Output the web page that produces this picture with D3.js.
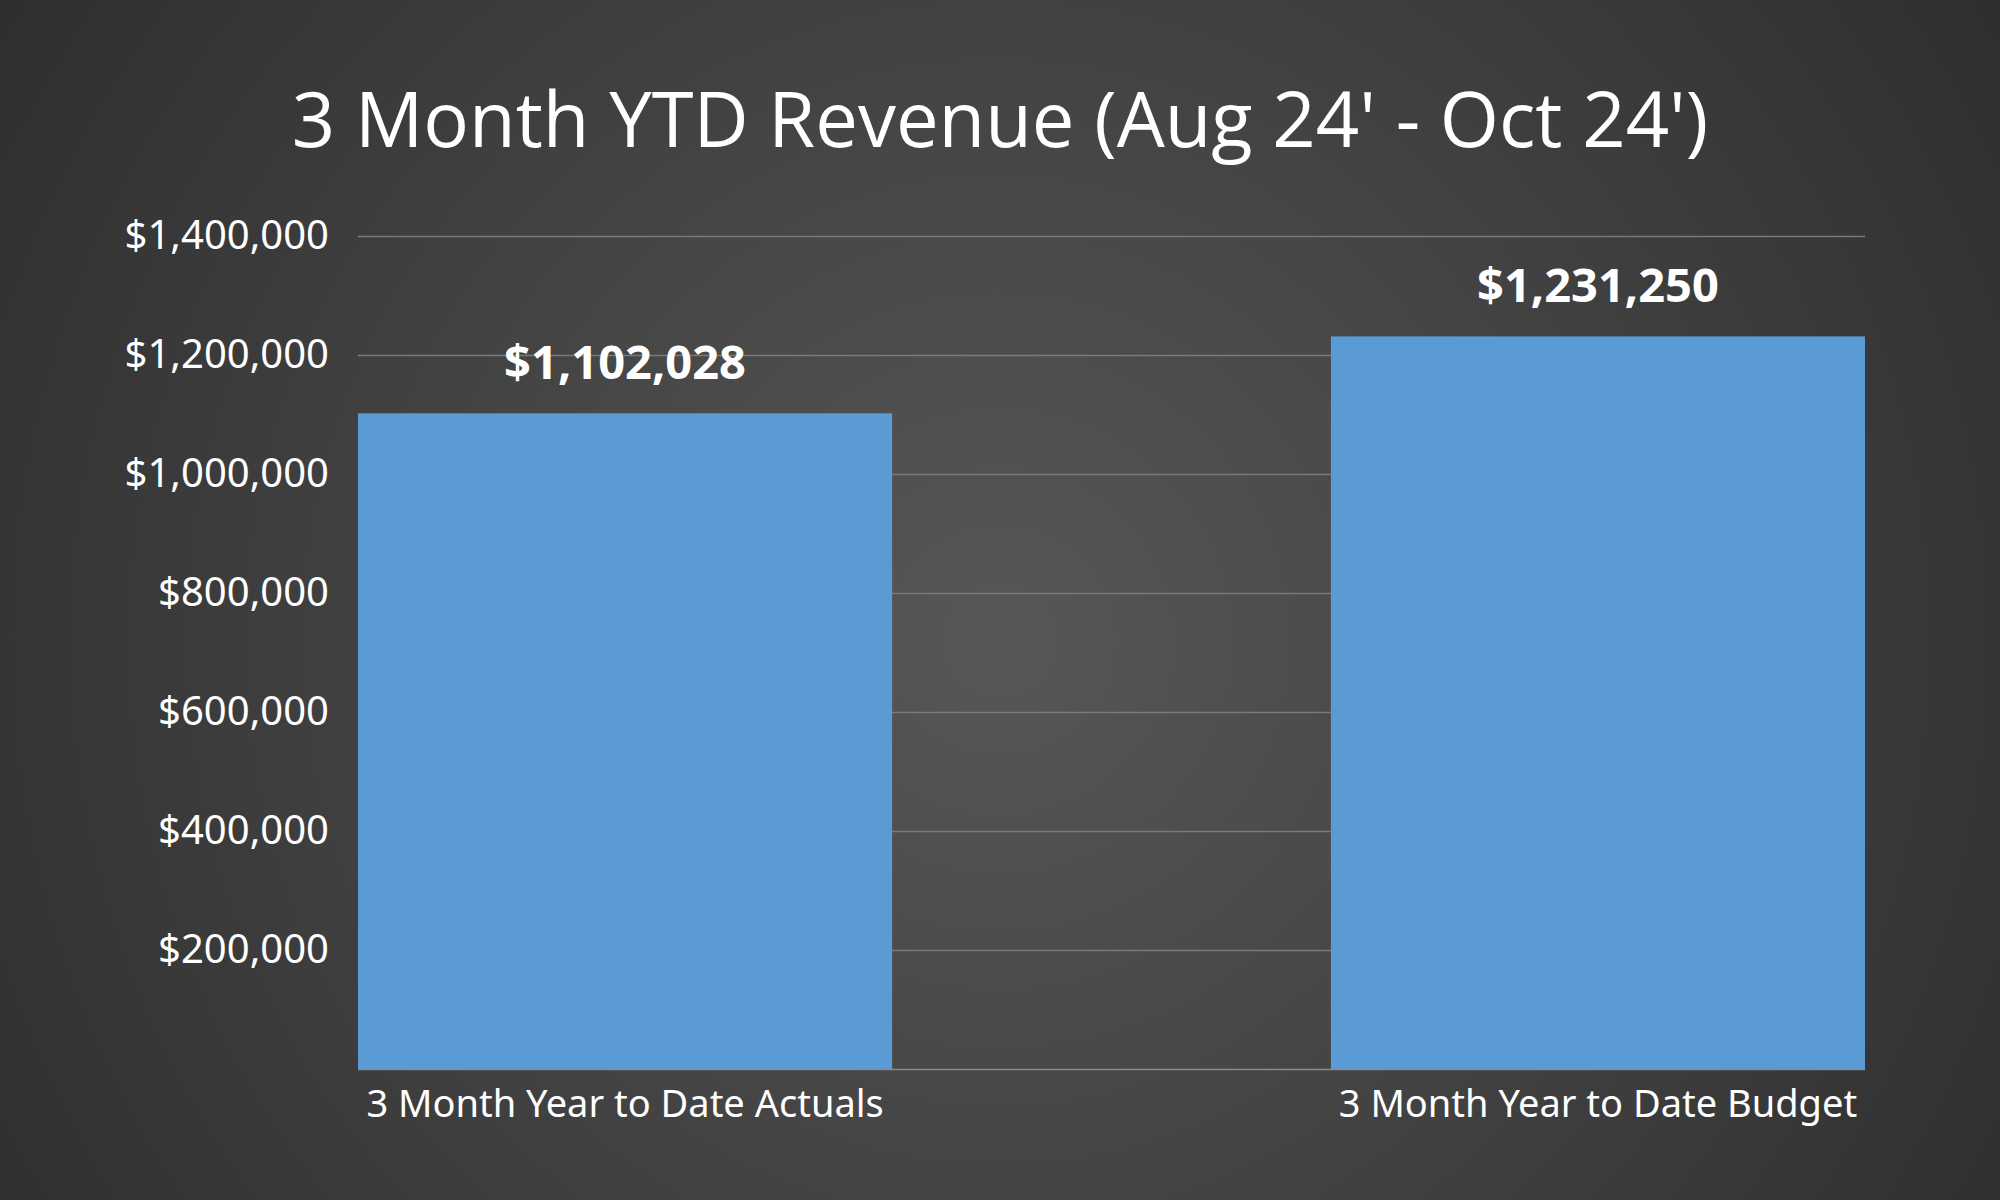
<!DOCTYPE html>
<html>
<head>
<meta charset="utf-8">
<script src="https://cdn.jsdelivr.net/npm/d3@7"></script>
<style>
  html, body { margin: 0; padding: 0; background: #333; }
  svg { display: block; }
</style>
</head>
<body>
<svg id="chart" width="2000" height="1200"></svg>
<script>
// ---- data ----
const categories = ["3 Month Year to Date Actuals", "3 Month Year to Date Budget"];
const values = [1102028, 1231250];
const valueLabels = ["$1,102,028", "$1,231,250"];
const tickValues = [200000, 400000, 600000, 800000, 1000000, 1200000, 1400000];
const tickLabels = ["$200,000", "$400,000", "$600,000", "$800,000", "$1,000,000", "$1,200,000", "$1,400,000"];
const title = "3 Month YTD Revenue (Aug 24' - Oct 24')";

// ---- layout ----
const W = 2000, H = 1200;
const plot = { left: 358, right: 1865, top: 236, bottom: 1069 };

const svg = d3.select("#chart");

// background radial gradient
const defs = svg.append("defs");
const grad = defs.append("radialGradient")
  .attr("id", "bg").attr("gradientUnits", "userSpaceOnUse")
  .attr("cx", 1000).attr("cy", 640).attr("r", 1250);
grad.append("stop").attr("offset", "0%").attr("stop-color", "#575757");
grad.append("stop").attr("offset", "100%").attr("stop-color", "#2c2c2c");
svg.append("rect").attr("width", W).attr("height", H).attr("fill", "url(#bg)");

const x = d3.scaleBand().domain(categories)
  .range([plot.left, plot.right]).paddingInner(0.451).paddingOuter(0);
const y = d3.scaleLinear().domain([0, 1400000]).range([plot.bottom, plot.top]);

// gridlines
svg.append("g")
  .selectAll("line").data(tickValues).join("line")
  .attr("x1", plot.left).attr("x2", plot.right)
  .attr("y1", d => Math.round(y(d)) + 0.5).attr("y2", d => Math.round(y(d)) + 0.5)
  .attr("stroke", "#7a7a7a").attr("stroke-width", 1.3);

// y axis labels
const yAxis = d3.axisLeft(y).tickValues(tickValues)
  .tickFormat((d, i) => tickLabels[i]).tickSize(0).tickPadding(29);
const gy = svg.append("g").attr("transform", `translate(${plot.left},0)`).call(yAxis);
gy.select(".domain").remove();
gy.selectAll("text")
  .attr("fill", "#ffffff")
  .style("font-family", "'Noto Sans', sans-serif")
  .style("font-size", "40px");

// bars
svg.append("g").selectAll("rect").data(values).join("rect")
  .attr("x", (d, i) => x(categories[i]))
  .attr("width", x.bandwidth())
  .attr("y", d => y(d))
  .attr("height", d => y(0) - y(d))
  .attr("fill", "#5b9bd5");

// baseline
svg.append("line")
  .attr("x1", plot.left).attr("x2", plot.right)
  .attr("y1", plot.bottom + 0.5).attr("y2", plot.bottom + 0.5)
  .attr("stroke", "#8a8a8a").attr("stroke-width", 1.5);

// value labels
svg.append("g").selectAll("text").data(values).join("text")
  .attr("x", (d, i) => x(categories[i]) + x.bandwidth() / 2)
  .attr("y", d => y(d) - 52)
  .attr("text-anchor", "middle")
  .attr("dominant-baseline", "central")
  .attr("fill", "#ffffff")
  .style("font-family", "'Noto Sans', sans-serif")
  .style("font-weight", "bold")
  .style("font-size", "47px")
  .text((d, i) => valueLabels[i]);

// x axis labels
const xAxis = d3.axisBottom(x).tickSize(0).tickPadding(21);
const gx = svg.append("g").attr("transform", `translate(0,${plot.bottom})`).call(xAxis);
gx.select(".domain").remove();
gx.selectAll("text")
  .attr("fill", "#ffffff")
  .style("font-family", "'Noto Sans', sans-serif")
  .style("font-size", "38px");

// title
svg.append("text")
  .attr("x", 1000).attr("y", 147)
  .attr("text-anchor", "middle")
  .attr("fill", "#ffffff")
  .style("font-family", "'Open Sans', sans-serif")
  .style("font-size", "76px")
  .text(title);
</script>
</body>
</html>
